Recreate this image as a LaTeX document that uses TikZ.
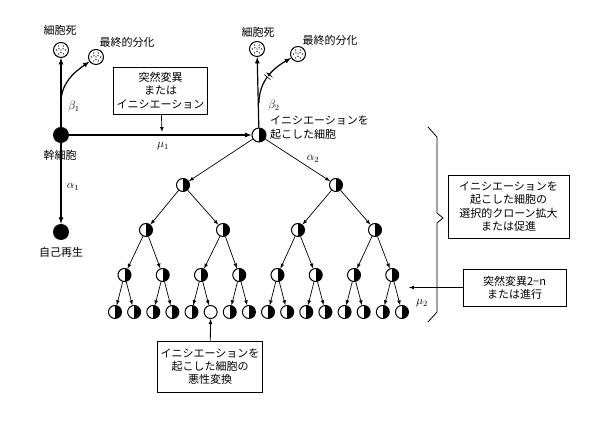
\documentclass[tikz,border=0pt]{standalone}
\usepackage{fontspec}
\setmainfont{Noto Sans CJK JP}
\usetikzlibrary{decorations.markings}
\tikzset{
  cell/.style={circle, draw, line width=1pt, minimum size=13pt, inner sep=0pt, fill=white},
  halfcell/.style={cell, path picture={\fill[black] (path picture bounding box.north) rectangle (path picture bounding box.south east);}},
  stemcell/.style={circle, fill=black, minimum size=16pt, inner sep=0pt},
  deadcell/.style={circle, draw, line width=1pt, minimum size=15pt, inner sep=0pt,
    path picture={
      \fill[black] (path picture bounding box.center) circle (0.7pt);
      \foreach \a in {30,150,270} \fill[black] ([shift={(\a:2.4pt)}]path picture bounding box.center) circle (0.7pt);
      \foreach \a in {0,60,...,300} \fill[black] ([shift={(\a:4.6pt)}]path picture bounding box.center) circle (0.7pt);}},
  txt/.style={font=\fontsize{11}{13.3}\selectfont, inner sep=1pt, align=center},
  textbox/.style={txt, draw, line width=0.8pt, inner sep=3pt},
  greek/.style={font=\large, inner sep=0pt},
  main/.style={line width=1.2pt, ->, >=latex},
  tree/.style={line width=0.7pt, ->, >=latex},
}
\begin{document}
\begin{tikzpicture}[x=1pt, y=1pt]
\useasboundingbox (0,0) rectangle (598,425);

% stem cell and its fates
\node[stemcell] (stem) at (61,290) {};
\node[txt] (stemlbl) at (60,270) {幹細胞};
\node[stemcell] (self) at (61,193) {};
\node[txt] (selflbl) at (61,173) {自己再生};
\node[deadcell] (death1) at (61,375) {};
\node[txt] (death1lbl) at (60,395) {細胞死};
\node[deadcell] (diff1) at (96,368) {};
\node[txt] (diff1lbl) at (127,383) {最終的分化};
\coordinate (fork1) at (61,322);

\draw[main] (stem) -- (death1);
\draw[main] (fork1) to[out=90, in=215] (diff1);
\draw[main] (stem) -- (self);
\node[greek] (b1) at (74,318) {$\beta_1$};
\node[greek] (a1) at (73,238) {$\alpha_1$};

% initiation
\node[textbox, minimum width=93pt, minimum height=47pt] (initbox) at (160.5,334.5) {突然変異\\または\\イニシエーション};
\node[halfcell, minimum size=14pt] (root) at (259,290) {};
\coordinate (mu1in) at (162,293);
\draw[main] (stem) -- (root);
\draw[line width=0.7pt, ->, >=latex] (initbox) -- (mu1in);
\node[greek] (m1) at (163,279) {$\mu_1$};
\node[txt, anchor=west, align=left] (rootlbl) at (269,297.5) {イニシエーションを\\起こした細胞};

\node[deadcell] (death2) at (257,376) {};
\node[txt] (death2lbl) at (258,393) {細胞死};
\node[deadcell] (diff2) at (298,371) {};
\node[txt] (diff2lbl) at (330,385) {最終的分化};
\coordinate (fork2) at (259,322);
\draw[main] (root) -- (death2);
\draw[main, postaction={decorate}, decoration={markings, mark=at position 0.5 with {\fill[white] (-1.5pt,-4pt) rectangle (1.5pt,4pt); \draw[line width=0.6pt] (-1.5pt,-4pt) -- (-1.5pt,4pt) (1.5pt,-4pt) -- (1.5pt,4pt);}}] (fork2) to[out=90, in=210] (diff2);
\node[greek] (b2) at (274,319) {$\beta_2$};
\node[greek] (a2) at (313,266) {$\alpha_2$};

% clonal tree
\foreach \i/\x in {0/183,1/336} \node[halfcell] (a\i) at (\x,240) {};
\foreach \i/\x in {0/146,1/223,2/298,3/375} \node[halfcell] (b\i) at (\x,195) {};
\foreach \i in {0,...,7} \node[halfcell] (c\i) at ({124.5+38.25*\i},150) {};
\foreach \i in {0,...,15} {
  \ifnum\i=5 \def\cellstyle{cell}\else\def\cellstyle{halfcell}\fi
  \node[\cellstyle] (d\i) at ({115+19.13*\i},113) {};
}
\foreach \i in {0,1} \draw[tree] (root) -- (a\i);
\foreach \i in {0,...,3} {\pgfmathtruncatemacro\p{\i/2} \draw[tree] (a\p) -- (b\i);}
\foreach \i in {0,...,7} {\pgfmathtruncatemacro\p{\i/2} \draw[tree] (b\p) -- (c\i);}
\foreach \i in {0,...,15} {\pgfmathtruncatemacro\p{\i/2} \draw[tree] (c\p) -- (d\i);}

% brace and right boxes
\draw[line width=0.8pt] (428,298) -- (437,288) -- (437,212) -- (443,207) -- (437,202) -- (437,113) -- (428,103);
\node[textbox, minimum width=121pt, minimum height=63pt] (clonebox) at (508.5,218.5) {イニシエーションを\\起こした細胞の\\選択的クローン拡大\\または促進};
\node[textbox, minimum width=103pt, minimum height=37pt] (progbox) at (514.5,137.5) {突然変異2−n\\または進行};
\coordinate (mu2in) at (409,137.5);
\draw[line width=0.7pt, ->, >=latex] (progbox) -- (mu2in);
\node[greek] (m2) at (422,122) {$\mu_2$};

% malignant transformation
\node[textbox, minimum width=96pt, minimum height=51pt] (malbox) at (210,58.5) {イニシエーションを\\起こした細胞の\\悪性変換};
\draw[line width=0.8pt, ->, >=latex] (malbox) -- (d5);
\end{tikzpicture}
\end{document}
